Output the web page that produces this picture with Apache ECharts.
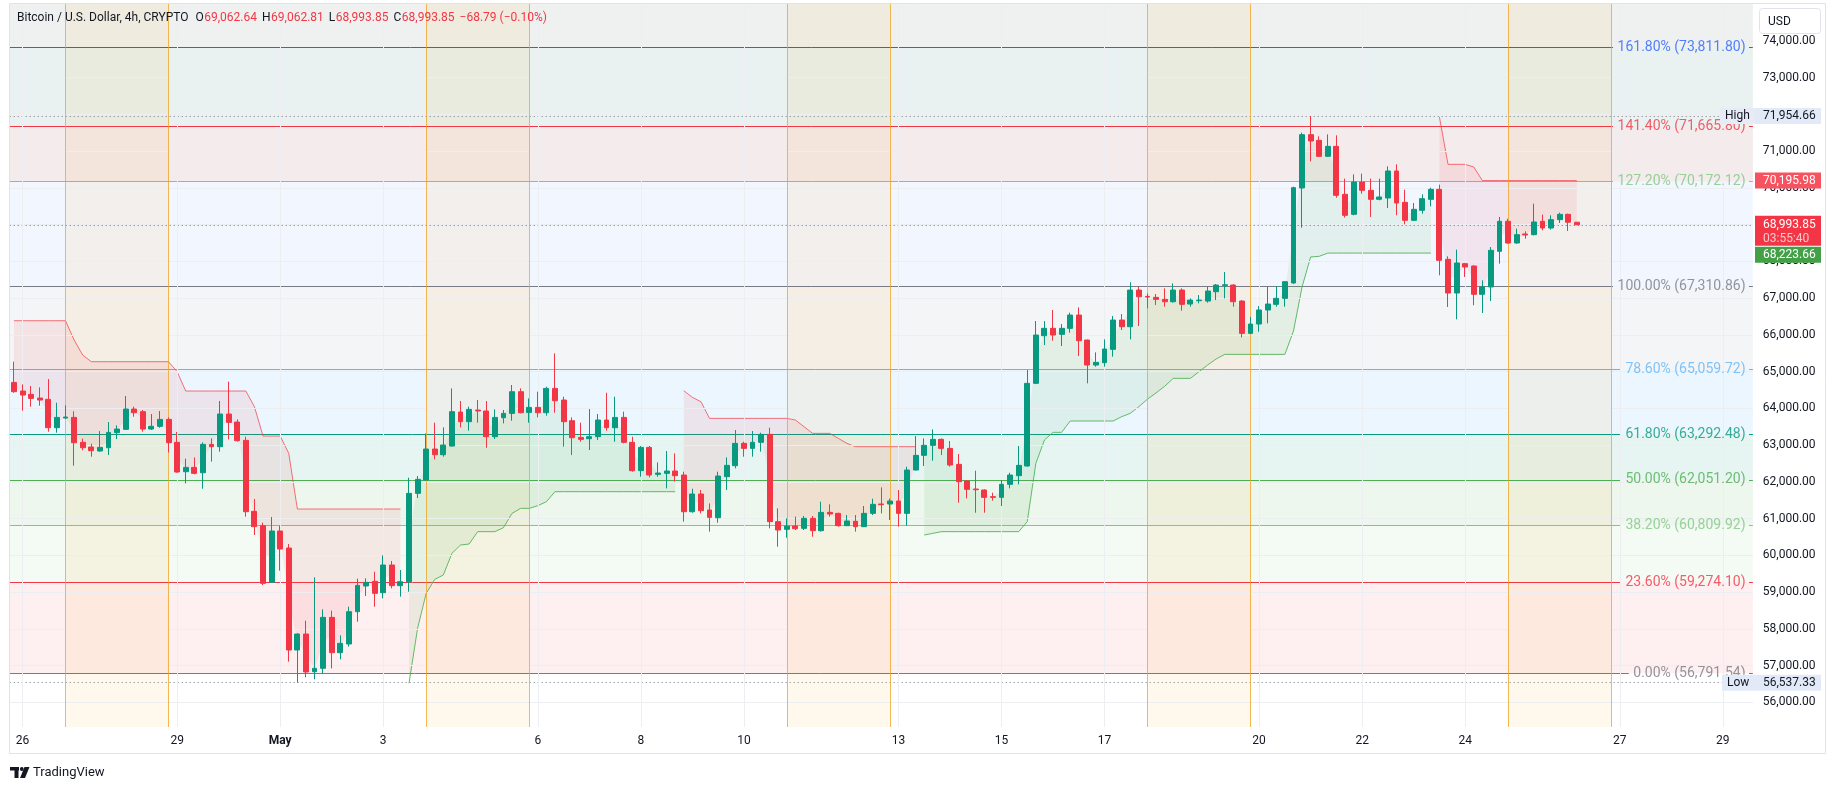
<!DOCTYPE html>
<html>
<head>
<meta charset="utf-8">
<title>BTCUSD 4h</title>
<script src="https://cdn.jsdelivr.net/npm/echarts@6/dist/echarts.min.js"></script>
<style>
html,body{margin:0;padding:0;background:#fff;}
#chart{width:1835px;height:790px;}
</style>
</head>
<body>
<div id="chart"></div>
<script>
// 4h candles, first one = Apr 25 20:00
var open = [64706,64471,64380,64280,64244,63473,63736,63754,63075,62947,
 62839,62929,63337,63428,63981,63909,63437,63510,63700,63075,
 62276,62394,62249,63020,62957,63845,63627,63129,61198,60808,
 59266,60663,60200,57426,57861,56836,56927,58314,57353,57589,
 58468,59167,59294,58985,59738,59176,59285,61687,62050,62893,
 62739,62975,63900,63637,63954,63927,63229,63745,63863,64453,
 63890,64026,63881,64543,64226,63664,63210,63174,63229,63682,
 63473,63754,63075,62304,62938,62204,62231,62295,62186,61188,
 61669,61234,61025,62140,62440,63047,62911,63075,63292,60917,
 60708,60799,60735,61007,60672,61170,61143,60808,60926,60781,
 61143,61397,61397,61479,61143,62322,62721,62993,63156,62911,
 62476,62023,61805,61778,61597,61578,61932,62168,62431,64680,
 65976,66176,66013,66176,66538,65858,65178,65242,65605,66402,
 66221,67218,67046,67019,66965,66901,67218,66838,66928,66919,
 67173,67345,67354,66919,66040,66294,66675,66829,66992,67410,
 69994,71445,71291,70856,71128,69822,69278,70158,69931,69686,
 69722,70457,69604,69115,69387,69686,69958,68054,67138,67936,
 67872,67102,67302,68272,69088,68498,68743,68725,69088,68906,
 69133,69278,69062.64];
var high = [65269,64652,64607,64570,64797,64153,64081,63918,63174,63038,
 63383,63628,63537,64335,64045,63954,63845,63927,63754,63356,
 62630,62666,63075,63183,64199,64725,63700,63229,61533,60889,
 61044,60808,60309,57880,58224,59402,58532,58496,57825,58604,
 59366,59375,59556,60001,59847,59602,62113,62159,63319,63609,
 63482,64543,64199,64045,64226,64199,63972,63954,64634,64543,
 64271,64453,64589,65495,64317,63754,63609,63981,63845,64425,
 64317,63909,63229,62975,62975,62530,62839,62775,62277,61814,
 61778,61415,62277,62666,63410,63093,63383,63337,63473,61279,
 61007,61053,61071,61071,61460,61388,61161,61098,61098,61343,
 61542,61850,61542,61778,62413,63247,63183,63428,63183,63111,
 62757,62040,62304,61796,61705,62050,62249,62975,65042,66375,
 66375,66675,66294,66602,66747,65870,65523,65877,66511,66566,
 67427,67309,67128,67110,67264,67400,67264,66992,67082,67309,
 67382,67708,67380,66946,66493,66783,67309,67327,67463,70030,
 71500,71954.66,71400,71454,71427,70248,70366,70384,70248,70248,
 70584,70638,69949,69586,69822,70003,70085,68136,68317,67954,
 67891,67483,68389,69206,69160,68888,68816,69568,69269,69251,
 69323,69296,69062.81];
var low = [64425,63936,64045,64072,63365,63337,63718,62440,62857,62685,
 62821,62730,63165,63410,63773,63365,63410,63473,62802,62249,
 61959,62204,61814,62549,62821,63156,63093,61052,60554,59194,
 59257,59584,57108,56537.33,56682,56628,56791,56927,57172,57516,
 58196,58894,58604,58831,59103,58876,59012,61560,62023,62612,
 62685,62960,63482,63392,63609,62929,63165,63591,63664,63863,
 63609,63754,63800,63881,62957,62730,63093,62866,63138,63392,
 63093,63047,62276,62140,62122,62140,61823,62005,60917,61161,
 61143,60645,60889,61778,62367,62685,62685,62821,60735,60236,
 60481,60690,60690,60508,60645,61053,60780,60799,60645,60770,
 61098,61143,60962,60781,60808,62310,62431,62576,62730,62413,
 61433,61551,61161,61161,61488,61343,61823,61932,62413,64660,
 65722,65840,65695,66058,65423,64680,65133,65133,65405,66130,
 65877,66239,66720,66810,66765,66874,66656,66765,66856,66874,
 66946,66992,66765,65931,66020,66085,66312,66765,66765,67390,
 68915,70720,70838,70840,69731,69188,69251,69840,69206,69659,
 69450,69251,69006,69100,69296,69496,67619,66757,66422,67574,
 66803,66594,66921,67936,68480,68480,68616,68707,68843,68861,
 69042,68825,68993.85];
var close = [64453,64362,64271,64226,63473,63754,63764,63065,62929,62848,
 62938,63346,63437,63981,63881,63437,63510,63700,63065,62267,
 62394,62231,63020,62957,63845,63618,63120,61188,60781,59239,
 60663,60173,57426,57861,56827,56927,58314,57353,57607,58468,
 59185,59266,58967,59738,59176,59285,61687,62068,62893,62739,
 63002,63909,63637,63972,63927,63229,63754,63863,64453,63881,
 64026,63881,64543,64208,63637,63201,63156,63229,63682,63473,
 63754,63075,62304,62938,62186,62240,62295,62168,61188,61669,
 61216,61034,62159,62449,63047,62911,63075,63292,60917,60690,
 60799,60726,61007,60672,61170,61125,60808,60935,60781,61143,
 61388,61379,61479,61143,62322,62721,62993,63156,62911,62458,
 62005,61796,61787,61578,61578,61932,62186,62449,64680,65994,
 66176,65994,66176,66538,65840,65178,65251,65614,66402,66221,
 67218,67037,67028,66965,66901,67218,66829,66946,66946,67191,
 67354,67363,66901,66040,66294,66675,66838,66992,67445,70003,
 71445,71273,70856,71128,69795,69251,70158,69931,69686,69750,
 70457,69586,69115,69414,69704,69958,68027,67138,67954,67846,
 67102,67302,68299,69088,68498,68725,68716,69070,68906,69133,
 69278,69062.64,68993.85];

// supertrend (null = not plotted)
var stDown = [66384,66384,66384,66384,66384,66384,66384,65860,65450,65269,
 65269,65269,65269,65269,65269,65269,65269,65269,65269,64997,
 64471,64471,64471,64471,64471,64471,64471,64471,64045,63247,
 63247,63247,62775,61261,61261,61261,61261,61261,61261,61261,
 61261,61261,61261,61261,61261,61261,null,null,null,null,
 null,null,null,null,null,null,null,null,null,null,
 null,null,null,null,null,null,null,null,null,null,
 null,null,null,null,null,null,null,null,64480,64299,
 64181,63727,63727,63727,63727,63727,63727,63727,63727,63727,
 63727,63682,63501,63319,63319,63319,63183,63047,62957,62957,
 62957,62957,62957,62957,62957,62957,null,null,null,null,
 null,null,null,null,null,null,null,null,null,null,
 null,null,null,null,null,null,null,null,null,null,
 null,null,null,null,null,null,null,null,null,null,
 null,null,null,null,null,null,null,null,null,null,
 null,null,null,null,null,null,null,null,null,null,
 null,null,null,null,null,null,71926,70638,70638,70638,
 70566,70195.98,70195.98,70195.98,70195.98,70195.98,70195.98,70195.98,70195.98,70195.98,
 70195.98,70195.98,70195.98];
var stUp = [null,null,null,null,null,null,null,null,null,null,
 null,null,null,null,null,null,null,null,null,null,
 null,null,null,null,null,null,null,null,null,null,
 null,null,null,null,null,null,null,null,null,null,
 null,null,null,null,null,null,56519,58015,58967,59348,
 59466,60055,60282,60309,60645,60645,60645,60753,61143,61279,
 61279,61352,61460,61733,61733,61733,61733,61733,61733,61733,
 61733,61733,61733,61733,61733,61733,61733,61733,null,null,
 null,null,null,null,null,null,null,null,null,null,
 null,null,null,null,null,null,null,null,null,null,
 null,null,null,null,null,null,60554,60599,60645,60645,
 60645,60645,60645,60645,60645,60645,60645,60645,60917,62504,
 63138,63347,63347,63655,63655,63655,63655,63655,63655,63773,
 63864,64045,64250,64420,64600,64816,64816,64816,64997,65178,
 65342,65468,65468,65468,65468,65468,65468,65468,65468,66100,
 67300,68118,68136,68223.66,68223.66,68223.66,68223.66,68223.66,68223.66,68223.66,
 68223.66,68223.66,68223.66,68223.66,68223.66,68223.66,null,null,null,null,
 null,null,null,null,null,null,null,null,null,null,
 null,null,null];

var fibPct = [0, 23.6, 38.2, 50, 61.8, 78.6, 100, 127.2, 141.4, 161.8];
var fibPrice = [56791.54, 59274.10, 60809.92, 62051.20, 63292.48, 65059.72, 67310.86, 70172.12, 71665.80, 73811.80];
var fibColor = ['#787b86','#f23645','#81c784','#4caf50','#089981','#64b5f6','#787b86','#81c784','#f23645','#2962ff'];
// fill of the band that ends at each level (index 0 unused), last = above 161.8
var bandColor = [null,'rgba(242,54,69,0.08)','rgba(129,199,132,0.09)','rgba(76,175,80,0.10)','rgba(8,153,129,0.10)',
 'rgba(100,181,246,0.12)','rgba(120,123,134,0.08)','rgba(41,98,255,0.06)','rgba(150,60,80,0.10)','rgba(40,130,110,0.10)'];
var topBandColor = 'rgba(110,125,115,0.11)';

var tickIdx = [1,19,31,43,61,73,85,103,115,127,145,157,169,187,199];
var tickText = ['26','29','May','3','6','8','10','13','15','17','20','22','24','27','29'];
var weekendFrom = [6,48,90,132,174];
var weekendTo = [18,60,102,144,186];
var priceTicks = [56000,57000,58000,59000,60000,61000,62000,63000,64000,65000,66000,67000,68000,69000,70000,71000,72000,73000,74000];

var hiPrice = 71954.66, loPrice = 56537.33;
var lastPrice = 68993.85, countdown = '03:55:40';
var stDownLast = 70195.98, stUpLast = 68223.66;

var nSlots = 203;
var GL = 9.7, BW = 8.587, GW = nSlots * BW, GT = 4, GH = 723;
var FONT = 'Roboto, "Noto Sans", sans-serif';

function fmt(v) { return v.toLocaleString('en-US', {minimumFractionDigits: 2, maximumFractionDigits: 2}); }
var mctx = document.createElement('canvas').getContext('2d');
function textW(t, size) { mctx.font = size + 'px Roboto'; return mctx.measureText(t).width; }
function frac(px) { return (px - GL) / GW; }

var cats = [];
for (var i = 0; i < nSlots; i++) cats.push('s' + i);

var candles = [], gBase = [], gBand = [], rBase = [], rBand = [];
for (var i = 0; i < open.length; i++) {
  candles.push([open[i], close[i], low[i], high[i]]);
  var mid = (open[i] + close[i]) / 2;
  gBase.push(stUp[i] == null ? null : stUp[i]);
  gBand.push(stUp[i] == null ? null : mid - stUp[i]);
  rBase.push(stDown[i] == null ? null : mid);
  rBand.push(stDown[i] == null ? null : stDown[i] - mid);
}

// fib bands
var bandAreas = [];
for (var k = 1; k < fibPrice.length; k++) {
  bandAreas.push([{yAxis: fibPrice[k - 1], itemStyle: {color: bandColor[k]}}, {yAxis: fibPrice[k]}]);
}
bandAreas.push([{yAxis: fibPrice[fibPrice.length - 1], itemStyle: {color: topBandColor}}, {yAxis: 75000}]);

var weekendAreas = weekendFrom.map(function (a, j) { return [{xAxis: a}, {xAxis: weekendTo[j]}]; });
var vLines = [];
weekendFrom.concat(weekendTo).forEach(function (a) {
  vLines.push({xAxis: a, lineStyle: {color: 'rgba(242,160,30,0.75)', width: 1, type: 'solid'}});
});
var gridLines = [];
tickIdx.forEach(function (a) { gridLines.push({xAxis: a}); });
priceTicks.forEach(function (p) { gridLines.push({yAxis: p}); });

// fib lines with a gap where the label sits
var labelEnd = 1746;
var fibLines = [], fibLabels = [];
fibPrice.forEach(function (p, k) {
  var t = fibPct[k].toFixed(2) + '% (' + fmt(p) + ')';
  var w = textW(t, 14);
  fibLines.push({coords: [[0, p], [frac(labelEnd - w - 5), p]], lineStyle: {color: fibColor[k]}});
  fibLines.push({coords: [[frac(labelEnd + 3), p], [1, p]], lineStyle: {color: fibColor[k]}});
  fibLabels.push({value: [frac(labelEnd), p], name: t, label: {color: fibColor[k]}});
});
var dotLines = [
  {coords: [[0, hiPrice], [frac(1720), hiPrice]], lineStyle: {color: '#787b86'}},
  {coords: [[0, loPrice], [frac(1722), loPrice]], lineStyle: {color: '#787b86'}},
  {coords: [[0, lastPrice], [1, lastPrice]], lineStyle: {color: '#f23645'}}
];

var chart = echarts.init(document.getElementById('chart'));
var option = {
  animation: false,
  backgroundColor: '#ffffff',
  grid: {left: GL, top: GT, width: GW, height: GH},
  xAxis: [{
    type: 'category', data: cats, boundaryGap: true,
    axisLine: {show: false}, axisTick: {show: false}, splitLine: {show: false},
    axisLabel: {
      margin: 8, fontSize: 12, fontFamily: FONT, color: '#131722',
      interval: function (idx) { return tickIdx.indexOf(idx) >= 0; },
      formatter: function (v, idx) {
        var j = tickIdx.indexOf(idx);
        if (j < 0) return '';
        return tickText[j] === 'May' ? '{b|May}' : tickText[j];
      },
      rich: {b: {fontWeight: 'bold', fontSize: 12, fontFamily: FONT, color: '#131722'}}
    }
  }, {
    type: 'value', min: 0, max: 1, show: false, gridIndex: 0
  }],
  yAxis: {
    type: 'value', position: 'right', min: 55331, max: 75000, scale: true,
    axisLine: {show: false}, axisTick: {show: false, customValues: priceTicks}, splitLine: {show: false},
    axisLabel: {
      customValues: priceTicks, margin: 10, fontSize: 12, fontFamily: FONT, color: '#131722',
      formatter: function (v) { return fmt(v); }
    }
  },
  series: [
    {type: 'line', data: [], silent: true, z: 1,
      markArea: {silent: true, data: bandAreas}},
    {type: 'line', data: [], silent: true, z: 1,
      markLine: {silent: true, symbol: ['none', 'none'], label: {show: false},
        lineStyle: {color: '#eceef2', width: 1, type: 'solid'}, data: gridLines}},
    {type: 'line', data: [], silent: true, z: 1,
      markArea: {silent: true, itemStyle: {color: 'rgba(255,152,0,0.07)'}, data: weekendAreas},
      markLine: {silent: true, symbol: ['none', 'none'], label: {show: false}, data: vLines}},
    {type: 'lines', coordinateSystem: 'cartesian2d', xAxisIndex: 1, yAxisIndex: 0, polyline: false,
      silent: true, z: 2, lineStyle: {width: 1, opacity: 1, type: 'solid'}, data: fibLines},
    {type: 'lines', coordinateSystem: 'cartesian2d', xAxisIndex: 1, yAxisIndex: 0, polyline: false,
      silent: true, z: 2, lineStyle: {width: 1, opacity: 1, type: [1, 3]}, data: dotLines},
    {type: 'line', data: gBase, stack: 'up', stackStrategy: 'all', symbol: 'none', silent: true, z: 3,
      lineStyle: {opacity: 0}},
    {type: 'line', data: gBand, stack: 'up', stackStrategy: 'all', symbol: 'none', silent: true, z: 3,
      lineStyle: {opacity: 0}, areaStyle: {color: 'rgba(76,175,80,0.10)', opacity: 1}},
    {type: 'line', data: rBase, stack: 'dn', stackStrategy: 'all', symbol: 'none', silent: true, z: 3,
      lineStyle: {opacity: 0}},
    {type: 'line', data: rBand, stack: 'dn', stackStrategy: 'all', symbol: 'none', silent: true, z: 3,
      lineStyle: {opacity: 0}, areaStyle: {color: 'rgba(242,54,69,0.09)', opacity: 1}},
    {type: 'line', data: stUp, symbol: 'none', silent: true, z: 4,
      lineStyle: {color: 'rgba(76,175,80,0.85)', width: 1}},
    {type: 'line', data: stDown, symbol: 'none', silent: true, z: 4,
      lineStyle: {color: 'rgba(242,54,69,0.7)', width: 1}},
    {type: 'candlestick', data: candles, barWidth: 5.4, z: 5,
      itemStyle: {color: '#089981', color0: '#f23645', borderColor: '#089981', borderColor0: '#f23645', borderWidth: 1}},
    {type: 'scatter', xAxisIndex: 1, yAxisIndex: 0, symbolSize: 1, silent: true, z: 6,
      itemStyle: {color: 'transparent'},
      label: {show: true, position: 'left', distance: 0, fontSize: 14, fontFamily: FONT,
        formatter: function (p) { return p.name; }},
      data: fibLabels}
  ]
};
chart.setOption(option);

// overlays: price scale tags, legend, logo
function py(v) { return chart.convertToPixel({yAxisIndex: 0}, v); }
function txt(t, x, y, fill, size, weight, align) {
  return {type: 'text', z: 101, style: {text: t, x: x, y: y, fill: fill, font: (weight || 'normal') + ' ' + size + 'px Roboto',
    align: align || 'left', verticalAlign: 'middle', textAlign: align || 'left', textVerticalAlign: 'middle'}};
}
function box(x, y, w, h, fill, stroke, r) {
  return {type: 'rect', z: 100, shape: {x: x, y: y, width: w, height: h, r: r || 0},
    style: {fill: fill, stroke: stroke || null, lineWidth: 1}};
}
var g = [];
var AX = 1755, AW = 66, TX = 1763;
g.push(box(9.5, 3.5, 1816, 750, 'none', '#e0e3eb'));
g.push(box(1759.5, 8.5, 61, 25, '#ffffff', '#e0e3eb', 3));
g.push(txt('USD', 1768, 21.5, '#131722', 12));

var yH = py(hiPrice);
g.push(box(1720, yH - 8, 35, 16, '#e6ebf5'));
g.push(txt('High', 1725, yH, '#131722', 12));
g.push(box(AX, yH - 8, AW, 16, '#e3eaf7'));
g.push(txt(fmt(hiPrice), TX, yH, '#131722', 12));

var yL = py(loPrice);
g.push(box(1722, yL - 8, 33, 16, '#e3eaf7'));
g.push(txt('Low', 1727, yL, '#131722', 12));
g.push(box(AX, yL - 8, AW, 16, '#e3eaf7'));
g.push(txt(fmt(loPrice), TX, yL, '#131722', 12));

var yS = py(stDownLast);
g.push(box(AX, yS - 8, AW, 16, '#f7525f'));
g.push(txt(fmt(stDownLast), TX, yS, '#ffffff', 12));

var yC = py(lastPrice);
g.push(box(AX, yC - 9, AW, 30, '#f23645'));
g.push(txt(fmt(lastPrice), TX, yC, '#ffffff', 12));
g.push(txt(countdown, TX, yC + 14, 'rgba(255,255,255,0.72)', 12));

var yU = Math.max(py(stUpLast) - 8, yC + 22);
g.push(box(AX, yU, AW, 16, '#43a047'));
g.push(txt(fmt(stUpLast), TX, yU + 8, '#ffffff', 12));

// legend line
var lx = 17, ly = 18, LS = 12;
var title = 'Bitcoin / U.S. Dollar, 4h, CRYPTO';
g.push(txt(title, lx, ly, '#131722', LS));
lx += textW(title, LS) + 7;
[['O', open[open.length - 1]], ['H', high[high.length - 1]], ['L', low[low.length - 1]], ['C', close[close.length - 1]]].forEach(function (it) {
  g.push(txt(it[0], lx, ly, '#131722', LS));
  lx += textW(it[0], LS) + 0.5;
  var s = fmt(it[1]);
  g.push(txt(s, lx, ly, '#f23645', LS));
  lx += textW(s, LS) + 5;
});
var chg = close[close.length - 1] - close[close.length - 2];
var chgTxt = '\u2212' + Math.abs(chg).toFixed(2) + ' (\u2212' + Math.abs(chg / close[close.length - 2] * 100).toFixed(2) + '%)';
g.push(txt(chgTxt, lx, ly, '#f23645', LS));

// TradingView mark
g.push({type: 'rect', z: 100, shape: {x: 10, y: 767, width: 9, height: 3.5}, style: {fill: '#131722'}});
g.push({type: 'rect', z: 100, shape: {x: 14.5, y: 767, width: 4, height: 11}, style: {fill: '#131722'}});
g.push({type: 'circle', z: 100, shape: {cx: 21.8, cy: 769, r: 1.9}, style: {fill: '#131722'}});
g.push({type: 'polygon', z: 100, shape: {points: [[24.5, 767], [29.5, 767], [25, 778], [20, 778]]}, style: {fill: '#131722'}});
g.push(txt('TradingView', 33, 772.5, '#131722', 13));

chart.setOption({graphic: {elements: g}});
</script>
</body>
</html>
